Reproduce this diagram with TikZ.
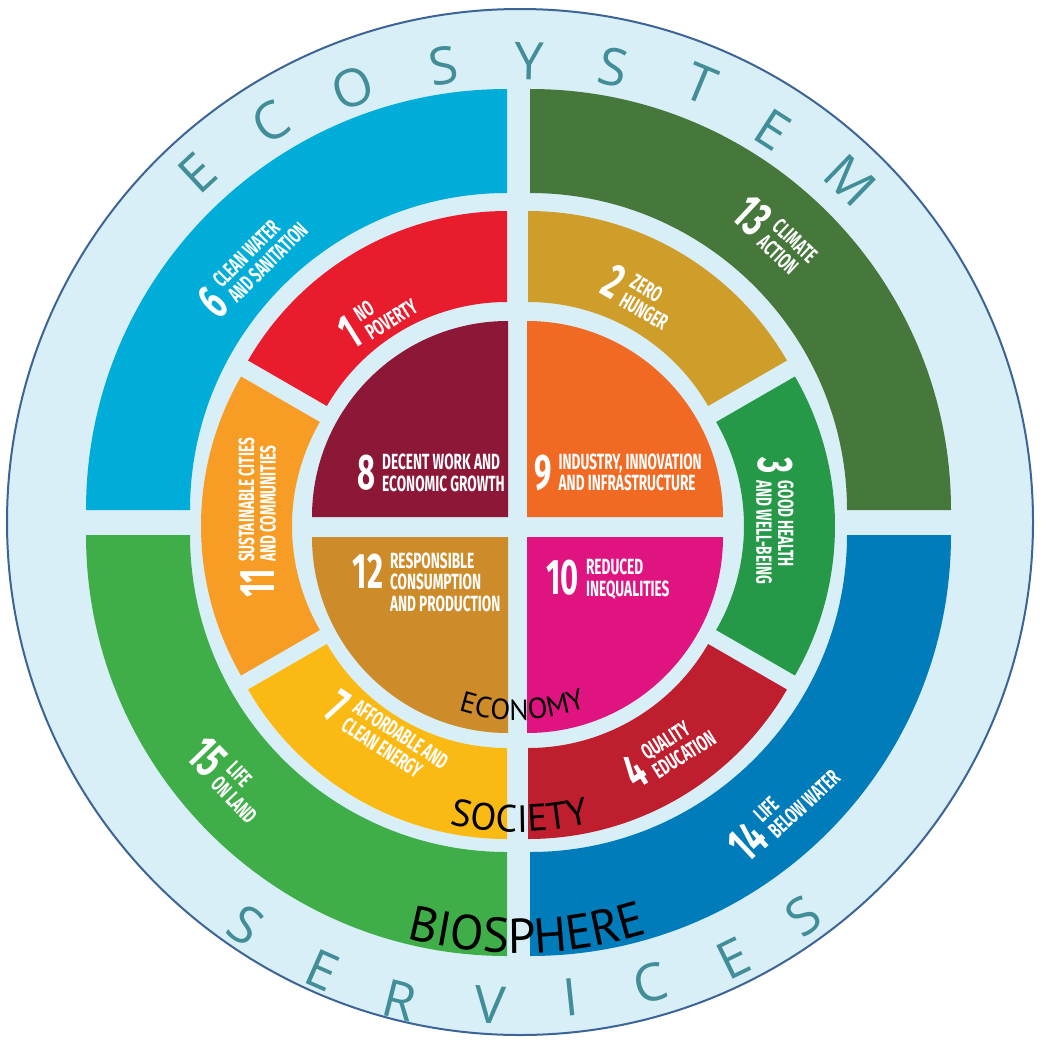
\documentclass[tikz,border=0pt]{standalone}
\usepackage{fontspec}
\usetikzlibrary{calc,decorations.text}
\newfontfamily\sdgfont[FakeStretch=0.62]{Fira Sans}
\newfontfamily\ptsansfont{PT Sans}
\newfontfamily\opensansfont{Open Sans}
\definecolor{bgblue}{HTML}{D9EFF7}
\definecolor{rimblue}{HTML}{3C6496}
\definecolor{tealtxt}{HTML}{418D98}
\definecolor{cA}{HTML}{E81C2C}
\definecolor{cB}{HTML}{CF9D2A}
\definecolor{cC}{HTML}{269949}
\definecolor{cD}{HTML}{BE1E2D}
\definecolor{cF}{HTML}{00ADD8}
\definecolor{cG}{HTML}{FBB913}
\definecolor{cH}{HTML}{8C1736}
\definecolor{cI}{HTML}{F06A24}
\definecolor{cJ}{HTML}{E01481}
\definecolor{cK}{HTML}{F79D25}
\definecolor{cL}{HTML}{CD8B2A}
\definecolor{cM}{HTML}{46773B}
\definecolor{cN}{HTML}{007CBB}
\definecolor{cO}{HTML}{3FAE49}
\newlength\sdgpitch
\setlength\sdgpitch{20pt}
\newcommand\sdgnumber[1]{\raisebox{-\sdgpitch}{\fontsize{50}{50}\selectfont #1}}
\newcommand\sdglab[2]{\sdgnumber{#1}\hspace{7pt}\begin{tabular}[t]{@{}l@{}}#2\end{tabular}}
\newcommand\ringseg[6]{%
  \fill[#1] ($(#2)+(#5:#4)$) arc[start angle=#5, end angle=#6, radius=#4]
    -- ($(#2)+(#6:#3)$) arc[start angle=#6, end angle=#5, radius=#3] -- cycle;}
\newcommand\pieseg[5]{%
  \fill[#1] (#2) -- ($(#2)+(#4:#3)$) arc[start angle=#4, end angle=#5, radius=#3] -- cycle;}
\begin{document}
\begin{tikzpicture}[x=1pt,y=1pt,
  seglab/.style={text=white, inner sep=0pt, font=\sdgfont\bfseries\fontsize{22}{20}\selectfont},
  ecol/.style={text=tealtxt, inner sep=0pt, font=\opensansfont\fontsize{52}{52}\selectfont},
]
\fill[white] (0,0) rectangle (1047,-1050);
\useasboundingbox (0,0) rectangle (1047,-1050);
\coordinate (O) at (520,-522);
\draw[fill=bgblue, draw=rimblue, line width=2pt] (O) circle[radius=513];
% biosphere
\coordinate (b6) at (507,-510);
\coordinate (b13) at (530,-510);
\coordinate (b15) at (507,-535);
\coordinate (b14) at (530,-535);
\ringseg{cF}{b6}{317}{421}{90}{180}
\ringseg{cM}{b13}{317}{421}{0}{90}
\ringseg{cO}{b15}{317}{421}{180}{270}
\ringseg{cN}{b14}{317}{421}{270}{360}
% society
\coordinate (s1) at (507,-510);
\coordinate (s2) at (528,-510);
\coordinate (s3) at (536,-526);
\coordinate (s4) at (528,-540);
\coordinate (s7) at (507,-540);
\coordinate (s11) at (500,-526);
\ringseg{cA}{s1}{208}{299}{90}{150}
\ringseg{cB}{s2}{208}{299}{30}{90}
\ringseg{cC}{s3}{208}{299}{-30}{30}
\ringseg{cD}{s4}{208}{299}{270}{330}
\ringseg{cG}{s7}{208}{299}{210}{270}
\ringseg{cK}{s11}{208}{299}{150}{210}
% economy
\coordinate (e8) at (508,-517);
\coordinate (e9) at (527,-517);
\coordinate (e12) at (508,-537);
\coordinate (e10) at (527,-537);
\pieseg{cH}{e8}{196}{90}{180}
\pieseg{cI}{e9}{196}{0}{90}
\pieseg{cL}{e12}{196}{180}{270}
\pieseg{cJ}{e10}{196}{270}{360}
% SDG labels
\node[seglab, rotate=45] (l6) at (253.5,-265.5) {\sdglab{6}{CLEAN WATER\\AND SANITATION}};
\node[seglab, rotate=32] (l1) at (378,-318.5) {\sdglab{1}{NO\\POVERTY}};
\node[seglab, rotate=-30] (l2) at (638,-299) {\sdglab{2}{ZERO\\HUNGER}};
\node[seglab, rotate=-43] (l13) at (772,-238) {\sdglab{13}{CLIMATE\\ACTION}};
\node[seglab, rotate=90] (l11) at (260,-517.5) {\sdglab{11}{SUSTAINABLE CITIES\\AND COMMUNITIES}};
\node[seglab, rotate=-90] (l3) at (772,-521) {\sdglab{3}{GOOD HEALTH\\AND WELL-BEING}};
\node[seglab, rotate=-33] (l7) at (384.5,-740) {\sdglab{7}{AFFORDABLE AND\\CLEAN ENERGY}};
\node[seglab, rotate=32] (l4) at (669.5,-754) {\sdglab{4}{QUALITY\\EDUCATION}};
\node[seglab, rotate=-46] (l15) at (226.5,-781) {\sdglab{15}{LIFE\\ON LAND}};
\node[seglab, rotate=43] (l14) at (784.5,-811.5) {\sdglab{14}{LIFE\\BELOW WATER}};
\node[seglab] (l8) at (431,-475.5) {\sdglab{8}{DECENT WORK AND\\ECONOMIC GROWTH}};
\node[seglab] (l9) at (618,-475) {\sdglab{9}{INDUSTRY, INNOVATION\\AND INFRASTRUCTURE}};
\node[seglab] (l12) at (426.5,-585) {\sdglab{12}{RESPONSIBLE\\CONSUMPTION\\AND PRODUCTION}};
\node[seglab] (l10) at (608,-580.5) {\sdglab{10}{REDUCED\\INEQUALITIES}};
% curved black labels
\coordinate (ce) at (517.5,-527);
\coordinate (cs) at (518,-525);
\coordinate (cb) at (518,-522);
\path[decorate, decoration={text along path, text align=center,
  text={|\ptsansfont\fontsize{29}{29}\selectfont|ECONOMY}}]
  ($(ce)+(221.5:193)$) arc[start angle=221.5, end angle=321.5, radius=193];
\path[decorate, decoration={text along path, text align=center,
  text={|\ptsansfont\fontsize{38}{38}\selectfont|SOCIETY}}]
  ($(cs)+(220.4:307)$) arc[start angle=220.4, end angle=320.4, radius=307];
\path[decorate, decoration={text along path, text align=center,
  text={|\ptsansfont\fontsize{49}{49}\selectfont|BIOSPHERE}}]
  ($(cb)+(211.3:431)$) arc[start angle=211.3, end angle=331.3, radius=431];
% ECOSYSTEM
\node[ecol, rotate=42.8] (eco1) at (197,-173) {E};
\node[ecol, rotate=31.9] (eco2) at (271,-122) {C};
\node[ecol, rotate=21] (eco3) at (353,-88) {O};
\node[ecol, rotate=9.6] (eco4) at (443,-66) {S};
\node[ecol, rotate=-1.1] (eco5) at (529,-61) {Y};
\node[ecol, rotate=-11.6] (eco6) at (613,-67) {S};
\node[ecol, rotate=-22.5] (eco7) at (701,-84) {T};
\node[ecol, rotate=-32.8] (eco8) at (773,-130) {E};
\node[ecol, rotate=-44] (eco9) at (850,-180) {M};
% SERVICES
\node[ecol, rotate=-34.2] (ser1) at (246,-925) {S};
\node[ecol, rotate=-23.8] (ser2) at (322,-970) {E};
\node[ecol, rotate=-14.1] (ser3) at (400,-1000) {R};
\node[ecol, rotate=-3.6] (ser4) at (490,-1005) {V};
\node[ecol, rotate=6.1] (ser5) at (571,-997) {I};
\node[ecol, rotate=15.7] (ser6) at (650,-983) {C};
\node[ecol, rotate=26] (ser7) at (733,-958) {E};
\node[ecol, rotate=35.7] (ser8) at (803,-916) {S};
\end{tikzpicture}
\end{document}
